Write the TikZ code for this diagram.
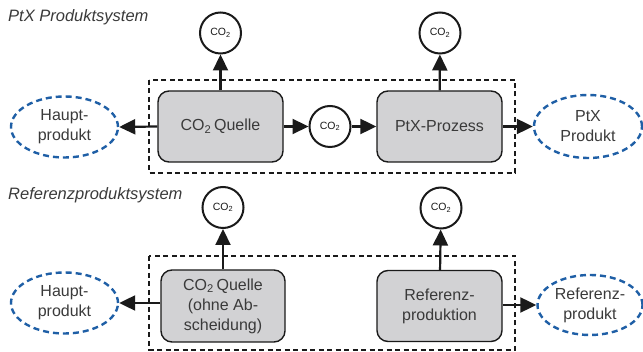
\documentclass[tikz,border=0pt]{standalone}
\usepackage{fontspec}
\setmainfont{Liberation Sans}
\usetikzlibrary{arrows.meta,shapes.geometric}
\definecolor{txt}{HTML}{3A3A3A}
\definecolor{boxfill}{HTML}{D2D2D4}
\definecolor{dk}{HTML}{1A1A1A}
\definecolor{blu}{HTML}{1F5FA6}
\begin{document}
\begin{tikzpicture}[x=1pt,y=-1pt,
  proc/.style={draw=dk,line width=1.4pt,fill=boxfill,rounded corners=11pt,minimum width=125pt,minimum height=71pt,align=center,text=txt,font=\fontsize{16}{20}\selectfont,inner sep=0pt},
  gas/.style={circle,draw=dk,line width=2pt,fill=white,minimum size=41pt,inner sep=0pt,font=\fontsize{10.5}{12}\selectfont,text=dk},
  prod/.style={ellipse,draw=blu,line width=2.4pt,dash pattern=on 6pt off 4pt,minimum width=107pt,minimum height=61pt,inner sep=0pt,align=center,text=txt,font=\fontsize{16}{20}\selectfont},
  sysbox/.style={draw=dk,line width=1.5pt,dash pattern=on 5pt off 3.5pt},
  flow/.style={draw=dk,line width=2.2pt,-{Triangle[length=16pt,width=15pt]}},
  ttl/.style={anchor=west,font=\fontsize{16.5}{18}\selectfont\itshape,text=txt,inner sep=0pt}
]
\useasboundingbox (0,0) rectangle (643,352);
% titles
\node[ttl] (t1) at (8,17) {PtX Produktsystem};
\node[ttl] (t2) at (8,195) {Referenzproduktsystem};
% system boundaries
\draw[sysbox] (149,80) rectangle (515,173);
\draw[sysbox] (149,256) rectangle (515,350);
% upper system
\node[proc] (b1) at (220.5,126.5) {CO\textsubscript{2}\,Quelle};
\node[proc] (b2) at (439.5,126.5) {PtX-Prozess};
\node[gas] (c1) at (220.5,33) {CO\textsubscript{2}};
\node[gas] (c2) at (440,33) {CO\textsubscript{2}};
\node[gas] (cm) at (330,126.5) {CO\textsubscript{2}};
\node[prod] (e1) at (64.5,127) {Haupt-\\produkt};
\node[prod,minimum width=108pt,minimum height=63pt] (e2) at (588,126.5) {PtX\\Produkt};
\draw[flow] (b1) -- (c1);
\draw[flow] (b2) -- (c2);
\draw[flow] (b1.west) -- (e1.east);
\draw[flow] (b1.east) -- (cm.west);
\draw[flow] (cm.east) -- (b2.west);
\draw[flow] (b2.east) -- (e2.west);
% lower system
\node[proc,minimum width=124pt,minimum height=72pt] (b3) at (223,306) {CO\textsubscript{2}\,Quelle\\(ohne Ab-\\scheidung)};
\node[proc] (b4) at (439.5,306) {Referenz-\\produktion};
\node[gas] (c3) at (223,207.5) {CO\textsubscript{2}};
\node[gas] (c4) at (441,208) {CO\textsubscript{2}};
\node[prod] (e3) at (64.5,303) {Haupt-\\produkt};
\node[prod,minimum width=105pt,minimum height=60pt] (e4) at (590,305) {Referenz-\\produkt};
\draw[flow] (b3) -- (c3);
\draw[flow] (b4) -- (c4);
\draw[flow] (b3.west |- e3.east) -- (e3.east);
\draw[flow] (b4.east |- e4.west) -- (e4.west);
\end{tikzpicture}
\end{document}
